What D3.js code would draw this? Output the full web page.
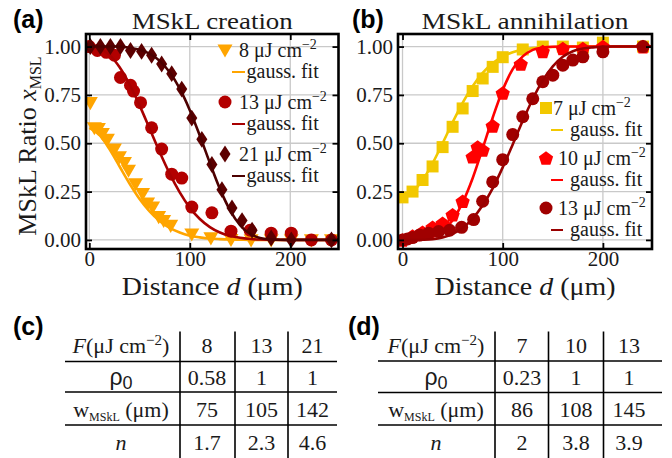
<!DOCTYPE html>
<html>
<head>
<meta charset="utf-8">
<script src="https://cdn.jsdelivr.net/npm/d3@7"></script>
<style>
  body { margin: 0; background: #fff; }
  svg { display: block; font-family: "Liberation Serif", "DejaVu Serif", serif; }
</style>
</head>
<body>
<svg id="fig" width="672" height="458"></svg>
<script>
// ---- data ----
// (a) MSkL creation: measured points [d (um), ratio]
const creation8 = [[1,0.71],[5,0.58],[9,0.575],[13,0.55],[18,0.52],[25,0.47],[30,0.43],[35,0.40],[39,0.36],[46,0.29],[53,0.24],[58,0.19],[63,0.17],[69,0.12],[74,0.10],[81,0.075],[102,0.03],[121,0.01],[141,0.002],[161,0],[181,0],[201,0],[221,0],[241,0]];
const creation13 = [[0,1.0],[8,0.98],[17,0.97],[25,0.955],[31,0.84],[41,0.80],[44,0.77],[51,0.71],[62,0.58],[72,0.47],[82,0.34],[92,0.32],[102,0.17],[122,0.14],[141,0.045],[160,0.05],[181,0.035],[201,0.035],[221,0.0],[241,0.0]];
const creation21 = [[1,1.0],[11,1.0],[21,1.0],[31,1.0],[41,0.98],[52,0.975],[62,0.955],[72,0.91],[82,0.86],[92,0.78],[102,0.63],[112,0.52],[122,0.39],[132,0.26],[142,0.165],[152,0.10],[162,0.05],[181,0.01],[201,0.0],[241,0.0]];

// (b) MSkL annihilation
const annih7 = [[0,0.22],[10,0.25],[20,0.31],[30,0.38],[40,0.48],[50,0.585],[60,0.68],[70,0.77],[80,0.835],[90,0.895],[100,0.945],[120,0.985],[140,1.0],[160,1.0],[180,0.995],[200,1.02],[240,1.0]];
const annih10 = [[0,0.0],[10,0.02],[20,0.04],[30,0.065],[40,0.086],[50,0.13],[60,0.20],[70,0.43],[75,0.48],[80,0.465],[90,0.59],[100,0.76],[118,0.91],[140,0.975],[160,0.99],[180,0.99],[200,1.0],[240,1.0]];
const annih13 = [[0,0.0],[5,0.005],[10,0.012],[17,0.025],[26,0.035],[36,0.043],[47,0.05],[59,0.065],[71,0.105],[80,0.2],[90,0.3],[100,0.415],[110,0.545],[120,0.637],[130,0.73],[140,0.818],[150,0.852],[160,0.904],[170,0.93],[180,0.947],[200,0.973],[240,1.0]];

// gauss. fit curves, sampled every 10 um
const fitD = [0,10,20,30,40,50,60,70,80,90,100,110,120,130,140,150,160,170,180,190,200,210,220,230,240,250];
const fitCreation8 = [0.58,0.543,0.47,0.381,0.292,0.212,0.148,0.098,0.062,0.038,0.022,0.013,0.007,0.004,0.002,0.001,0,0,0,0,0,0,0,0,0,0];
const fitCreation13 = [1.0,0.99,0.957,0.894,0.805,0.696,0.576,0.455,0.343,0.246,0.167,0.108,0.066,0.038,0.021,0.011,0.005,0.002,0.001,0,0,0,0,0,0,0];
const fitCreation21 = [1,1,1,1,0.994,0.984,0.963,0.926,0.867,0.782,0.671,0.539,0.398,0.264,0.154,0.076,0.031,0.010,0.003,0.001,0,0,0,0,0,0];
const fitAnnih7 = [0.23,0.251,0.309,0.396,0.500,0.608,0.709,0.795,0.864,0.914,0.948,0.971,0.984,0.992,0.996,0.998,0.999,1,1,1,1,1,1,1,1,1];
const fitAnnih10 = [0,0,0.003,0.015,0.045,0.102,0.193,0.319,0.473,0.632,0.775,0.883,0.949,0.983,0.995,0.999,1,1,1,1,1,1,1,1,1,1];
const fitAnnih13 = [0,0,0.001,0.004,0.013,0.031,0.062,0.110,0.179,0.267,0.375,0.494,0.616,0.729,0.825,0.898,0.947,0.976,0.990,0.996,0.999,1,1,1,1,1];

const xTicks = [0, 100, 200];
const yTicks = [0, 0.25, 0.5, 0.75, 1.0];

// tables (c) and (d)
const fluenceC = ['8', '13', '21'];
const rho0C = ['0.58', '1', '1'];
const widthC = ['75', '105', '142'];
const expoC = ['1.7', '2.3', '4.6'];
const fluenceD = ['7', '10', '13'];
const rho0D = ['0.23', '1', '1'];
const widthD = ['86', '108', '145'];
const expoD = ['2', '3.8', '3.9'];

// ---- drawing ----
const svg = d3.select('#fig');
const SERIF = '"Liberation Serif", "DejaVu Serif", serif';
const SANS = '"Liberation Sans", Arial, sans-serif';
const INK = '#1a1a1a';

const markers = {
  tri: r => `M${-r},${-0.75 * r}L${r},${-0.75 * r}L0,${r}Z`,
  circle: r => d3.symbol(d3.symbolCircle, Math.PI * r * r)(),
  diamond: r => `M0,${-1.3 * r}L${0.85 * r},0L0,${1.3 * r}L${-0.85 * r},0Z`,
  square: r => `M${-r},${-r}H${r}V${r}H${-r}Z`,
  pentagon: r => {
    const p = d3.range(5).map(i => {
      const a = -Math.PI / 2 + i * 2 * Math.PI / 5;
      return [r * Math.cos(a), r * Math.sin(a) + r * 0.1];
    });
    return 'M' + p.join('L') + 'Z';
  }
};

function fluenceLabel(sel, value) {
  sel.append('tspan').text(value + ' μJ cm');
  sel.append('tspan').attr('dy', -8).attr('font-size', '70%').text('−2');
}

function drawPanel(cfg) {
  const g = svg.append('g');
  const x = d3.scaleLinear().domain(cfg.xDomain).range(cfg.xRange);
  const y = d3.scaleLinear().domain([-0.047, 1.065]).range([249, 34]);
  const [left, right] = cfg.xRange;
  const top = 34, bottom = 249;

  const clipId = 'clip-' + cfg.id;
  svg.append('clipPath').attr('id', clipId)
    .append('rect').attr('x', left).attr('y', top)
    .attr('width', right - left).attr('height', bottom - top);

  // grid
  g.append('g').selectAll('line').data(xTicks).join('line')
    .attr('x1', d => x(d)).attr('x2', d => x(d))
    .attr('y1', top).attr('y2', bottom)
    .attr('stroke', '#c9c9c9').attr('stroke-width', 1.3);
  g.append('g').selectAll('line').data(yTicks).join('line')
    .attr('x1', left).attr('x2', right)
    .attr('y1', d => y(d)).attr('y2', d => y(d))
    .attr('stroke', '#c9c9c9').attr('stroke-width', 1.3);

  // series
  const plot = g.append('g').attr('clip-path', `url(#${clipId})`);
  const line = d3.line().x(d => x(d[0])).y(d => y(d[1])).curve(d3.curveMonotoneX);
  cfg.series.forEach(s => {
    plot.append('g').selectAll('path').data(s.pts).join('path')
      .attr('d', markers[s.marker](s.size))
      .attr('transform', d => `translate(${x(d[0])},${y(d[1])})`)
      .attr('fill', s.color);
    plot.append('path')
      .datum(fitD.map((d, i) => [d, s.fit[i]]))
      .attr('d', line)
      .attr('fill', 'none')
      .attr('stroke', s.lineColor)
      .attr('stroke-width', 2.6);
  });

  // axes with inward ticks
  const ax = g.append('g').attr('transform', `translate(0,${bottom})`)
    .call(d3.axisBottom(x).tickValues(xTicks).tickSizeInner(-6).tickSizeOuter(0).tickPadding(2));
  const ay = g.append('g').attr('transform', `translate(${left},0)`)
    .call(d3.axisLeft(y).tickValues(yTicks).tickFormat(d3.format('.2f')).tickSizeInner(-6).tickSizeOuter(0).tickPadding(5));
  [ax, ay].forEach(a => a.attr('font-family', SERIF).attr('font-size', 21)
    .selectAll('text').attr('fill', INK));
  g.append('g').attr('transform', `translate(0,${top})`)
    .call(d3.axisTop(x).tickValues(xTicks).tickSizeInner(-6).tickSizeOuter(0).tickFormat(''));
  g.append('g').attr('transform', `translate(${right},0)`)
    .call(d3.axisRight(y).tickValues(yTicks).tickSizeInner(-6).tickSizeOuter(0).tickFormat(''));
  g.selectAll('.domain').remove();
  g.selectAll('.tick line').attr('stroke', '#000').attr('stroke-width', 1.8);

  // frame
  g.append('rect').attr('x', left).attr('y', top)
    .attr('width', right - left).attr('height', bottom - top)
    .attr('fill', 'none').attr('stroke', '#000').attr('stroke-width', 2.6);

  // title, x label
  const cx = (left + right) / 2;
  g.append('text').attr('x', cx).attr('y', 29).attr('text-anchor', 'middle')
    .attr('font-size', 23).attr('fill', INK)
    .attr('textLength', cfg.titleLen).attr('lengthAdjust', 'spacingAndGlyphs')
    .text(cfg.title);
  const xl = g.append('text').attr('x', cx).attr('y', 295).attr('text-anchor', 'middle')
    .attr('font-size', 26).attr('fill', INK)
    .attr('textLength', 181).attr('lengthAdjust', 'spacingAndGlyphs');
  xl.append('tspan').text('Distance ');
  xl.append('tspan').attr('font-style', 'italic').text('d');
  xl.append('tspan').text(' (μm)');

  // panel label
  svg.append('text').attr('x', cfg.labelX).attr('y', 28)
    .attr('font-family', SANS).attr('font-weight', 'bold')
    .attr('font-size', 25).attr('fill', '#000').text(cfg.label);

  // legend
  cfg.series.forEach((s, i) => {
    const L = cfg.legend;
    const my = L.y0 + i * L.dy;
    g.append('path').attr('d', markers[s.marker](s.size))
      .attr('transform', `translate(${L.mx},${my})`).attr('fill', s.color);
    const t = g.append('text').attr('x', L.tx[i]).attr('y', my + 6.5)
      .attr('font-size', 20).attr('fill', INK);
    fluenceLabel(t, s.fluence);
    g.append('line').attr('x1', L.lx[0]).attr('x2', L.lx[1])
      .attr('y1', my + 22).attr('y2', my + 22)
      .attr('stroke', s.lineColor).attr('stroke-width', 2);
    g.append('text').attr('x', L.gx).attr('y', my + 28).attr('font-size', 20)
      .attr('fill', INK).text('gauss. fit');
  });
}

drawPanel({
  id: 'a', label: '(a)', labelX: 13, title: 'MSkL  creation', titleLen: 161,
  xDomain: [-3.3, 248], xRange: [86, 338.5],
  series: [
    { pts: creation8, fit: fitCreation8, color: '#ffa500', lineColor: '#ffa500', marker: 'tri', size: 7.5, fluence: '8' },
    { pts: creation13, fit: fitCreation13, color: '#b30000', lineColor: '#a80000', marker: 'circle', size: 6.5, fluence: '13' },
    { pts: creation21, fit: fitCreation21, color: '#5c0000', lineColor: '#4d0000', marker: 'diamond', size: 6.5, fluence: '21' }
  ],
  legend: { y0: 50, dy: 52, mx: 225, tx: [239, 239, 239], lx: [232, 245], gx: 246.5 }
});

drawPanel({
  id: 'b', label: '(b)', labelX: 352, title: 'MSkL  annihilation', titleLen: 207,
  xDomain: [-4.5, 249], xRange: [398, 652],
  series: [
    { pts: annih7, fit: fitAnnih7, color: '#f2c800', lineColor: '#f2c800', marker: 'square', size: 6, fluence: '7' },
    { pts: annih10, fit: fitAnnih10, color: '#ff0000', lineColor: '#ff0000', marker: 'pentagon', size: 7.5, fluence: '10' },
    { pts: annih13, fit: fitAnnih13, color: '#a00000', lineColor: '#990000', marker: 'circle', size: 6.5, fluence: '13' }
  ],
  legend: { y0: 108, dy: 50, mx: 546, tx: [553, 558, 558], lx: [551, 563], gx: 570 }
});

// y axis label (shared, left)
const yl = svg.append('text').attr('transform', 'translate(36,146) rotate(-90)')
  .attr('text-anchor', 'middle').attr('font-size', 26).attr('fill', INK);
yl.append('tspan').text('MSkL Ratio ');
yl.append('tspan').attr('font-style', 'italic').text('x');
yl.append('tspan').attr('font-size', 16).attr('dy', 5).text('MSL');

// ---- tables ----
function drawTable(cfg) {
  const g = svg.append('g');
  const [x0, x1] = cfg.xs;
  cfg.hy.forEach(yy => g.append('line').attr('x1', x0).attr('x2', x1)
    .attr('y1', yy).attr('y2', yy).attr('stroke', '#000').attr('stroke-width', 1.6));
  cfg.vx.forEach(xx => g.append('line').attr('x1', xx).attr('x2', xx)
    .attr('y1', 331.5).attr('y2', 458).attr('stroke', '#000').attr('stroke-width', 1.6));

  const rows = [cfg.fluence, cfg.rho0, cfg.width, cfg.expo];
  const rowY = [353, 385, 417, 450];
  rows.forEach((vals, r) => {
    vals.forEach((v, c) => g.append('text').attr('x', cfg.colX[c + 1]).attr('y', rowY[r])
      .attr('text-anchor', 'middle').attr('font-size', 22).attr('fill', INK).text(v));
  });

  const cx = cfg.colX[0];
  const h0 = g.append('text').attr('x', cx).attr('y', rowY[0]).attr('text-anchor', 'middle')
    .attr('font-size', 22).attr('fill', INK);
  h0.append('tspan').attr('font-style', 'italic').text('F');
  h0.append('tspan').text('(μJ cm');
  h0.append('tspan').attr('dy', -8).attr('font-size', 15).text('−2');
  h0.append('tspan').attr('dy', 8).text(')');

  const h1 = g.append('text').attr('x', cx).attr('y', rowY[1]).attr('text-anchor', 'middle')
    .attr('font-family', SANS).attr('font-size', 23).attr('fill', INK);
  h1.append('tspan').text('ρ');
  h1.append('tspan').attr('dy', 4).attr('font-size', 18).text('0');

  const h2 = g.append('text').attr('x', cx).attr('y', rowY[2]).attr('text-anchor', 'middle')
    .attr('font-size', 22).attr('fill', INK);
  h2.append('tspan').text('w');
  h2.append('tspan').attr('dy', 4).attr('font-size', 12).text('MSkL');
  h2.append('tspan').attr('dy', -4).text(' (μm)');

  g.append('text').attr('x', cx).attr('y', rowY[3]).attr('text-anchor', 'middle')
    .attr('font-size', 22).attr('font-style', 'italic').attr('fill', INK).text('n');

  svg.append('text').attr('x', cfg.labelX).attr('y', 335)
    .attr('font-family', SANS).attr('font-weight', 'bold')
    .attr('font-size', 25).attr('fill', '#000').text(cfg.label);
}

drawTable({
  label: '(c)', labelX: 13, xs: [65, 337], hy: [361.5, 392, 425], vx: [180, 235, 288],
  colX: [121, 207, 261.5, 312.5],
  fluence: fluenceC, rho0: rho0C, width: widthC, expo: expoC
});
drawTable({
  label: '(d)', labelX: 348, xs: [378, 662], hy: [361, 392.5, 425], vx: [495, 548.5, 603.5],
  colX: [436, 522, 576, 629],
  fluence: fluenceD, rho0: rho0D, width: widthD, expo: expoD
});
</script>
</body>
</html>
